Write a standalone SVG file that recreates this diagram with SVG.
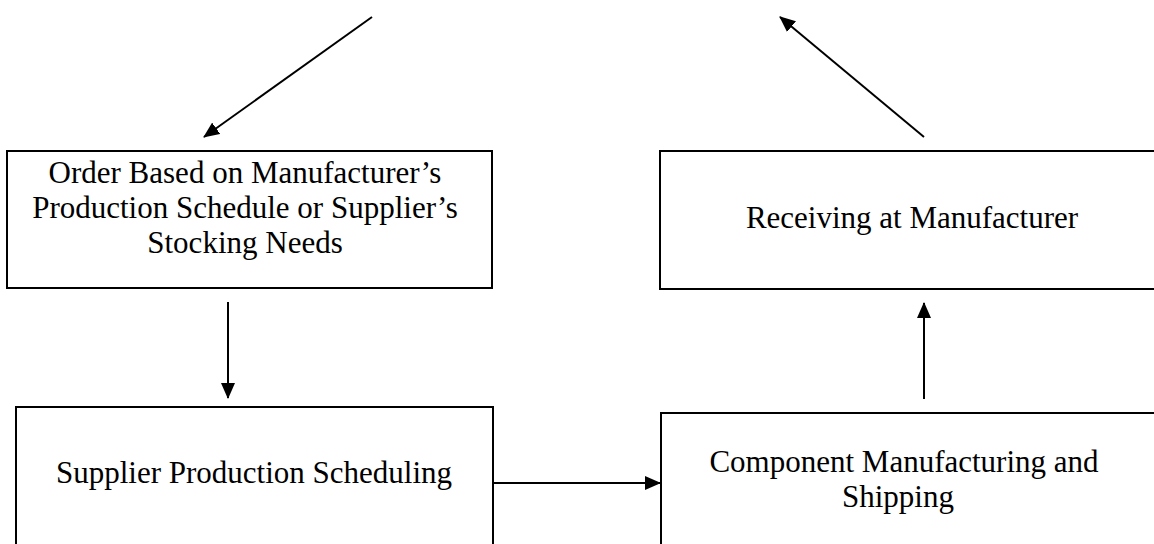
<svg xmlns="http://www.w3.org/2000/svg" width="1154" height="544" viewBox="0 0 1154 544">
<defs>
<style>
.box{fill:#fff;stroke:#000;stroke-width:2}
.t{font-family:"Liberation Serif","Times New Roman",serif;font-size:31px;fill:#000;text-anchor:middle}
.c{stroke:#000;stroke-width:2;fill:none;marker-end:url(#ah)}
</style>
<marker id="ah" viewBox="0 0 16 14" refX="15" refY="7" markerWidth="8" markerHeight="7" markerUnits="strokeWidth" orient="auto">
<path d="M0,0L16,7L0,14z" fill="#000"/>
</marker>
</defs>
<rect width="1154" height="544" fill="#fff"/>
<g id="n1">
<rect class="box" x="7" y="151" width="485" height="137"/>
<text class="t" x="245" y="183">Order Based on Manufacturer’s</text>
<text class="t" x="245" y="218">Production Schedule or Supplier’s</text>
<text class="t" x="245" y="253">Stocking Needs</text>
</g>
<g id="n2">
<rect class="box" x="660" y="151" width="510" height="138"/>
<text class="t" x="912" y="228">Receiving at Manufacturer</text>
</g>
<g id="n3">
<rect class="box" x="16" y="407" width="477" height="150"/>
<text class="t" x="254" y="483">Supplier Production Scheduling</text>
</g>
<g id="n4">
<rect class="box" x="661" y="413" width="510" height="150"/>
<text class="t" x="904" y="472">Component Manufacturing and</text>
<text class="t" x="898" y="507">Shipping</text>
</g>
<g id="connectors">
<line class="c" x1="372" y1="17" x2="204" y2="137"/>
<line class="c" x1="924" y1="137" x2="780" y2="17"/>
<line class="c" x1="228" y1="302" x2="228" y2="398"/>
<line class="c" x1="924" y1="399" x2="924" y2="303"/>
<line class="c" x1="493" y1="483" x2="660" y2="483"/>
</g>
</svg>
